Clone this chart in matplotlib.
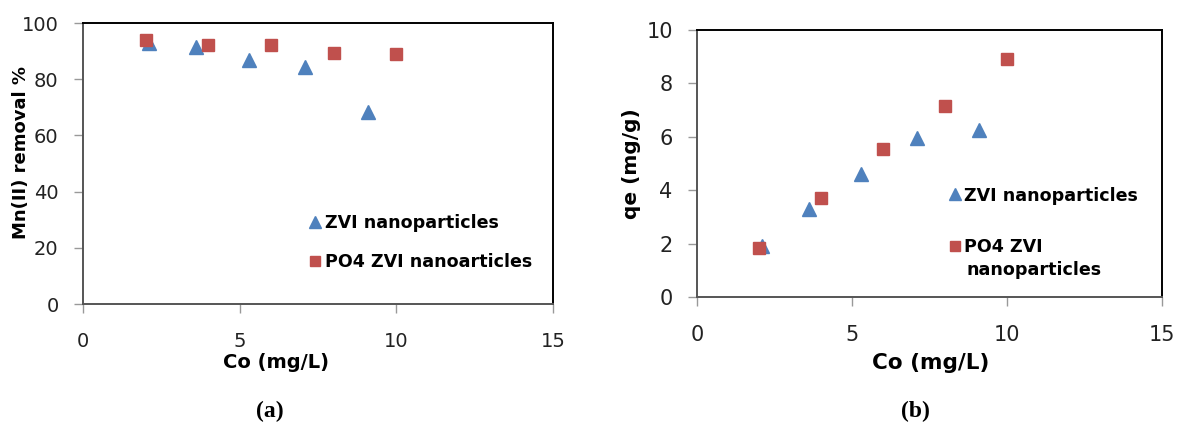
import matplotlib
matplotlib.use("Agg")
from matplotlib import pyplot as plt
from matplotlib.lines import Line2D

# panel (a): removal %
zvi_co_a = [2.1, 3.6, 5.3, 7.1, 9.1]
zvi_removal = [93, 91.5, 87, 84.5, 68.5]
po4_co_a = [2, 4, 6, 8, 10]
po4_removal = [94, 92, 92, 89.5, 89]

# panel (b): qe
zvi_co_b = [2.1, 3.6, 5.3, 7.1, 9.1]
zvi_qe = [1.9, 3.3, 4.6, 5.95, 6.25]
po4_co_b = [2, 4, 6, 8, 10]
po4_qe = [1.85, 3.7, 5.55, 7.15, 8.9]

x_ticks = [0, 5, 10, 15]
ya_ticks = [0, 20, 40, 60, 80, 100]
yb_ticks = [0, 2, 4, 6, 8, 10]

BLUE = '#4F81BD'
RED = '#C0504D'

plt.rcParams['font.family'] = 'DejaVu Sans'

fig = plt.figure(figsize=(11.77, 4.23), dpi=100)
ax_a = fig.add_axes([83 / 1177, 1 - 304 / 423, 470 / 1177, 281 / 423])
ax_b = fig.add_axes([697 / 1177, 1 - 297 / 423, 465 / 1177, 267 / 423])


def style_axes(ax, yticks, size):
    ax.set_xlim(0, 15)
    ax.set_xticks(x_ticks)
    ax.set_ylim(yticks[0], yticks[-1])
    ax.set_yticks(yticks)
    for side in ['top', 'right']:
        ax.spines[side].set_color('black')
        ax.spines[side].set_linewidth(1.4)
    for side in ['left', 'bottom']:
        ax.spines[side].set_color('#555555')
        ax.spines[side].set_linewidth(1.4)
    ax.tick_params(axis='x', direction='out', length=6.5, width=1, color='#999999',
                   pad=14, labelsize=size, labelcolor='#222222')
    ax.tick_params(axis='y', direction='out', length=6.5, width=1, color='#999999',
                   pad=11, labelsize=size, labelcolor='#222222')


def add_legend(ax, labels, anchor, spacing):
    handles = [
        Line2D([], [], ls='none', marker='^', color=BLUE, markersize=8),
        Line2D([], [], ls='none', marker='s', color=RED, markersize=7),
    ]
    return ax.legend(handles, labels, loc='upper left', bbox_to_anchor=anchor, frameon=False,
                     handlelength=0.5, handletextpad=0.3, labelspacing=spacing, borderaxespad=0,
                     prop={'weight': 'bold', 'size': 12.6})


# (a)
ax_a.plot(zvi_co_a, zvi_removal, ls='none', marker='^', color=BLUE, markersize=10)
ax_a.plot(po4_co_a, po4_removal, ls='none', marker='s', color=RED, markersize=8)
style_axes(ax_a, ya_ticks, 14)
ax_a.set_xlabel('Co (mg/L)', fontsize=14, fontweight='bold')
ax_a.xaxis.set_label_coords(0.41, -0.175)
ax_a.xaxis.label.set_va('top')
ax_a.set_ylabel('Mn(II) removal %', fontsize=13, fontweight='bold')
ax_a.yaxis.set_label_coords(-0.113, 0.54)
add_legend(ax_a, ['ZVI nanoparticles', 'PO4 ZVI nanoarticles'], (0.47, 0.345), 1.2)

# (b)
ax_b.plot(zvi_co_b, zvi_qe, ls='none', marker='^', color=BLUE, markersize=10)
ax_b.plot(po4_co_b, po4_qe, ls='none', marker='s', color=RED, markersize=8)
style_axes(ax_b, yb_ticks, 15)
ax_b.set_xlabel('Co (mg/L)', fontsize=15.5, fontweight='bold')
ax_b.xaxis.set_label_coords(0.503, -0.21)
ax_b.xaxis.label.set_va('top')
ax_b.set_ylabel('qe (mg/g)', fontsize=14.5, fontweight='bold')
ax_b.yaxis.set_label_coords(-0.12, 0.5)
add_legend(ax_b, ['ZVI nanoparticles', 'PO4 ZVI'], (0.53, 0.44), 1.9)
ax_b.text(0.579, 0.10, 'nanoparticles', transform=ax_b.transAxes, ha='left', va='center',
          fontsize=12.6, fontweight='bold')

fig.text(270 / 1177, 1 - 411 / 423, '(a)', ha='center', va='center',
         family='Liberation Serif', fontweight='bold', fontsize=17)
fig.text(915 / 1177, 1 - 411 / 423, '(b)', ha='center', va='center',
         family='Liberation Serif', fontweight='bold', fontsize=17)

fig.savefig('out.png', dpi=100)
